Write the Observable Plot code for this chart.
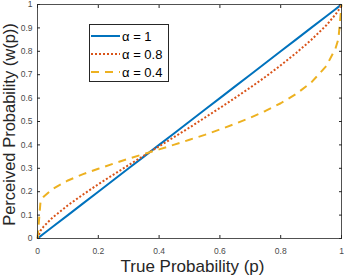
<!DOCTYPE html>
<html>
<head>
<meta charset="utf-8">
<script src="https://cdn.jsdelivr.net/npm/d3@7"></script>
<script src="https://cdn.jsdelivr.net/npm/@observablehq/plot@0.6"></script>
<style>
  html, body { margin: 0; padding: 0; background: #fff; }
  #wrap { position: relative; width: 344px; height: 278px; font-family: "Liberation Sans", Arial, sans-serif; }
  #legend { position: absolute; left: 89px; top: 24px; width: 80px; height: 58px; border: 1px solid #262626; background: #fff; box-sizing: border-box; padding-top: 2px; }
  .row { display: flex; align-items: center; height: 18px; font-size: 13px; color: #000; white-space: nowrap; }
  .row svg { margin-left: 1px; margin-right: 2px; flex: none; }
</style>
</head>
<body>
<div id="wrap"></div>
<script>
// True probability samples
const p = [0, 0.01, 0.02, 0.05, 0.1, 0.15, 0.2, 0.25, 0.3, 0.35, 0.4, 0.45, 0.5, 0.55, 0.6, 0.65, 0.7, 0.75, 0.8, 0.85, 0.9, 0.95, 0.98, 0.99, 1];
// Perceived probability
const w1  = [0, 0.01, 0.02, 0.05, 0.1, 0.15, 0.2, 0.25, 0.3, 0.35, 0.4, 0.45, 0.5, 0.55, 0.6, 0.65, 0.7, 0.75, 0.8, 0.85, 0.9, 0.95, 0.98, 0.99, 1];
const w08 = [0, 0.034, 0.051, 0.090, 0.142, 0.188, 0.232, 0.273, 0.314, 0.354, 0.394, 0.434, 0.474, 0.516, 0.558, 0.601, 0.645, 0.691, 0.740, 0.792, 0.848, 0.911, 0.957, 0.975, 1];
const w04 = [0, 0.159, 0.178, 0.212, 0.248, 0.275, 0.298, 0.320, 0.341, 0.361, 0.381, 0.401, 0.422, 0.443, 0.466, 0.490, 0.516, 0.545, 0.578, 0.617, 0.666, 0.737, 0.811, 0.853, 1];
const seriesNames = ["α = 1", "α = 0.8", "α = 0.4"];
const seriesColors = ["#0072BD", "#D95319", "#EDB120"];
const seriesDash = [null, "2,2", "8,6"];
const xTicks = [0, 0.2, 0.4, 0.6, 0.8, 1];
const yTicks = [0, 0.1, 0.2, 0.3, 0.4, 0.5, 0.6, 0.7, 0.8, 0.9, 1];
const xLabel = "True Probability (p)";
const yLabel = "Perceived Probability (w(p))";

const series = [w1, w08, w04];
const lineMarks = series.map((ws, i) =>
  Plot.line(p.map((x, j) => ({x, y: ws[j]})), {
    x: "x", y: "y", stroke: seriesColors[i], strokeWidth: 2,
    strokeDasharray: seriesDash[i], strokeLinecap: "butt"
  })
);

const tickColor = "#4a4a4a";
const axisColor = "#262626";
const noLabel = () => "";
const chart = Plot.plot({
  width: 344, height: 278,
  marginLeft: 37, marginRight: 3, marginTop: 4, marginBottom: 40,
  style: {fontFamily: "Liberation Sans, Arial, sans-serif", background: "transparent"},
  x: {domain: [0, 1]},
  y: {domain: [0, 1]},
  marks: [
    ...lineMarks,
    Plot.frame({stroke: axisColor, strokeOpacity: 0.8}),
    Plot.axisX(xTicks, {anchor: "bottom", tickSize: -3, tickPadding: 12, fontSize: 8.5, fill: tickColor, stroke: axisColor, label: null, tickFormat: d => String(d)}),
    Plot.axisX(xTicks, {anchor: "top", tickSize: -3, tickFormat: noLabel, label: null, stroke: axisColor}),
    Plot.axisY(yTicks, {anchor: "left", tickSize: -3, tickPadding: 8, fontSize: 8.5, fill: tickColor, stroke: axisColor, label: null, tickFormat: d => String(d)}),
    Plot.axisY(yTicks, {anchor: "right", tickSize: -3, tickFormat: noLabel, label: null, stroke: axisColor}),
    Plot.text([xLabel], {frameAnchor: "bottom", lineAnchor: "middle", textAnchor: "middle", dx: 3, dy: 28, fontSize: 17, fill: "#262626", text: d => d}),
    Plot.text([yLabel], {frameAnchor: "left", lineAnchor: "middle", textAnchor: "middle", dx: -28, dy: 3, rotate: -90, fontSize: 16.5, fill: "#262626", text: d => d})
  ]
});
const wrap = document.getElementById("wrap");
wrap.appendChild(chart);

// legend
const legend = document.createElement("div");
legend.id = "legend";
seriesNames.forEach((name, i) => {
  const row = document.createElement("div");
  row.className = "row";
  const dash = seriesDash[i] ? `stroke-dasharray="${seriesDash[i]}"` : "";
  row.innerHTML = `<svg width="29" height="6"><line x1="0" y1="3" x2="29" y2="3" stroke="${seriesColors[i]}" stroke-width="2" ${dash}/></svg><span>${name}</span>`;
  legend.appendChild(row);
});
wrap.appendChild(legend);
</script>
</body>
</html>
